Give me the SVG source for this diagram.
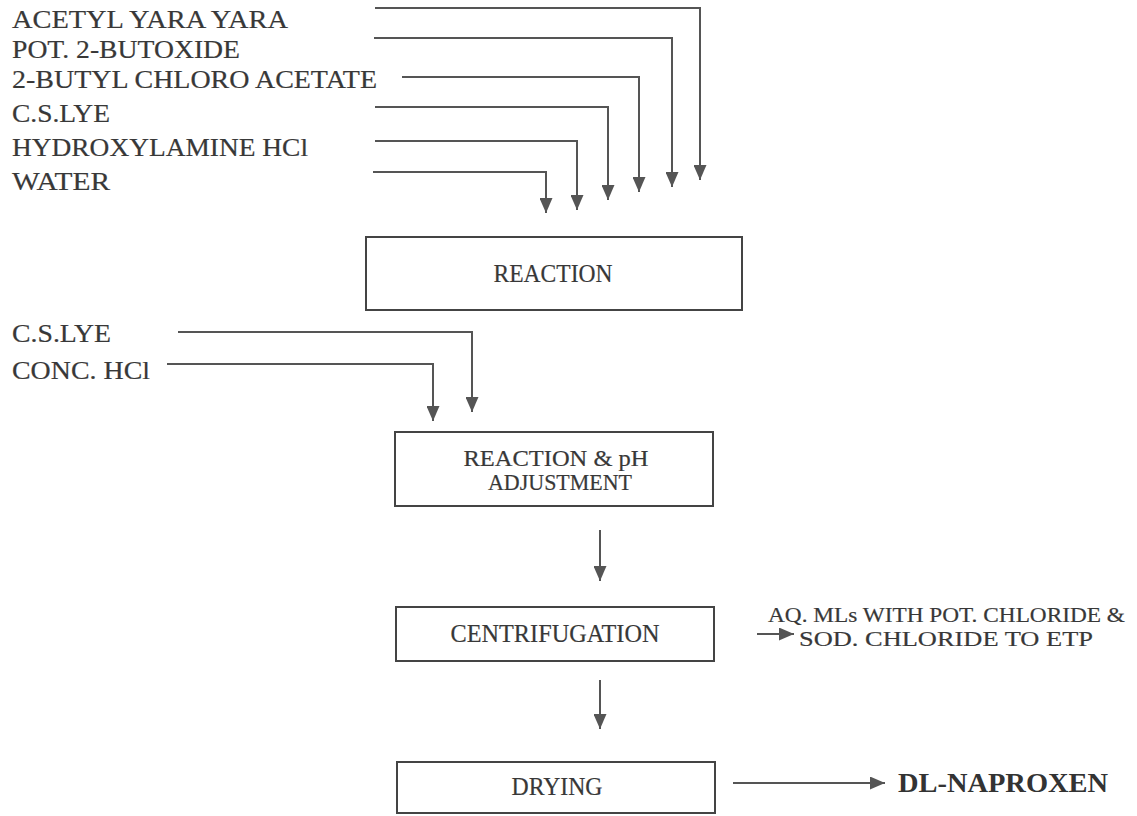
<svg xmlns="http://www.w3.org/2000/svg" width="1137" height="816" viewBox="0 0 1137 816">
<defs>
<style>
.t{font-family:"Liberation Serif","Times New Roman",serif;fill:#383838;stroke:#383838;stroke-width:0.2;}
.l{font-size:26px;}
.b{font-size:26px;}
.m{font-size:23px;}
.s{font-size:22px;}
.bold{font-size:27px;font-weight:bold;fill:#333;stroke:none;}
.box{fill:#fff;stroke:#444;stroke-width:2;}
.c{fill:none;stroke:#555;stroke-width:2;marker-end:url(#ah);}
</style>
<marker id="ah" viewBox="0 0 15 13" refX="15" refY="6.5" markerWidth="15" markerHeight="13" markerUnits="userSpaceOnUse" orient="auto">
<path d="M0,0 L15,6.5 L0,13 z" fill="#555"/>
</marker>
</defs>
<rect width="1137" height="816" fill="#fff"/>
<g id="inputs1">
<text class="t l" x="12" y="28" textLength="276" lengthAdjust="spacingAndGlyphs">ACETYL YARA YARA</text>
<text class="t l" x="12" y="58" textLength="228" lengthAdjust="spacingAndGlyphs">POT. 2-BUTOXIDE</text>
<text class="t l" x="12" y="88" textLength="365" lengthAdjust="spacingAndGlyphs">2-BUTYL CHLORO ACETATE</text>
<text class="t l" x="12" y="122" textLength="98" lengthAdjust="spacingAndGlyphs">C.S.LYE</text>
<text class="t l" x="12" y="156" textLength="296" lengthAdjust="spacingAndGlyphs">HYDROXYLAMINE HCl</text>
<text class="t l" x="12" y="190" textLength="98" lengthAdjust="spacingAndGlyphs">WATER</text>
</g>
<g id="inputs2">
<text class="t l" x="12" y="342" textLength="99" lengthAdjust="spacingAndGlyphs">C.S.LYE</text>
<text class="t l" x="12" y="379" textLength="138" lengthAdjust="spacingAndGlyphs">CONC. HCl</text>
</g>
<g id="reaction">
<rect class="box" x="366" y="237" width="376" height="73"/>
<text class="t b" x="553" y="282" text-anchor="middle" textLength="119" lengthAdjust="spacingAndGlyphs">REACTION</text>
</g>
<g id="reaction-ph">
<rect class="box" x="395" y="432" width="318" height="74"/>
<text class="t m" x="556" y="466" text-anchor="middle" textLength="185" lengthAdjust="spacingAndGlyphs">REACTION &amp; pH</text>
<text class="t m" x="560" y="490" text-anchor="middle" textLength="144" lengthAdjust="spacingAndGlyphs">ADJUSTMENT</text>
</g>
<g id="centrifugation">
<rect class="box" x="396" y="607" width="318" height="54"/>
<text class="t b" x="555" y="642" text-anchor="middle" textLength="209" lengthAdjust="spacingAndGlyphs">CENTRIFUGATION</text>
</g>
<g id="etp">
<text class="t s" x="768" y="622" textLength="357" lengthAdjust="spacingAndGlyphs">AQ. MLs WITH POT. CHLORIDE &amp;</text>
<text class="t s" x="799" y="646" textLength="294" lengthAdjust="spacingAndGlyphs">SOD. CHLORIDE TO ETP</text>
</g>
<g id="drying">
<rect class="box" x="397" y="762" width="318" height="51"/>
<text class="t b" x="557" y="795" text-anchor="middle" textLength="91" lengthAdjust="spacingAndGlyphs">DRYING</text>
</g>
<g id="product">
<text class="t bold" x="898" y="792" textLength="210" lengthAdjust="spacingAndGlyphs">DL-NAPROXEN</text>
</g>
<g id="connectors">
<path class="c" d="M375,8 H700 V180"/>
<path class="c" d="M374,38 H672 V187"/>
<path class="c" d="M402,77 H639 V192"/>
<path class="c" d="M375,107 H608 V200"/>
<path class="c" d="M375,141 H577 V210"/>
<path class="c" d="M373,172 H546 V213"/>
<path class="c" d="M178,332 H472 V412"/>
<path class="c" d="M167,364 H433 V421"/>
<path class="c" d="M600,530 V581"/>
<path class="c" d="M757,634 H794"/>
<path class="c" d="M600,680 V729"/>
<path class="c" d="M733,783 H885"/>
</g>
</svg>
